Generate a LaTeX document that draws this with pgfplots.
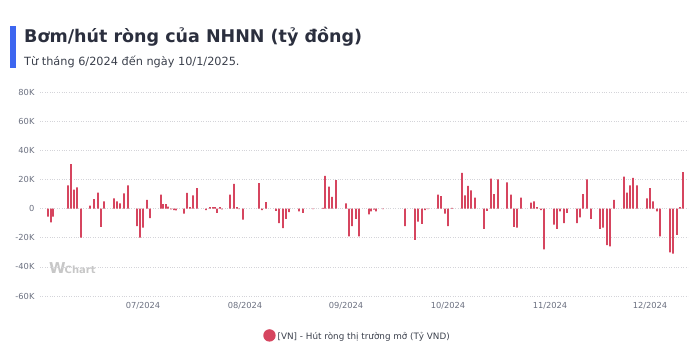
\documentclass[border=0pt]{standalone}
\usepackage{pgfplots}
\pgfplotsset{compat=1.18}
\usepackage{fontspec}
\setmainfont{DejaVu Sans}
\definecolor{barc}{HTML}{D6455F}
\definecolor{titc}{HTML}{2B2F3E}
\definecolor{subc}{HTML}{3A3F4B}
\definecolor{tickc}{HTML}{6B7080}
\definecolor{gridc}{HTML}{D4D4D9}
\definecolor{bluec}{HTML}{3D66F0}
\begin{document}
\begin{tikzpicture}[x=1pt,y=1pt]
\useasboundingbox (0pt,0pt) rectangle (700pt,358pt);
\fill[bluec] (10pt,290pt) rectangle (15.5pt,332pt);
\node[anchor=base west,inner sep=0,text=titc,font=\fontsize{17.5}{20}\selectfont\bfseries] at (24pt,315pt) {Bơm/hút ròng của NHNN (tỷ đồng)};
\node[anchor=base west,inner sep=0,text=subc,font=\fontsize{11.3}{13}\selectfont] at (24pt,292.5pt) {Từ tháng 6/2024 đến ngày 10/1/2025.};
\node[anchor=base west,inner sep=0,text=black!22,font=\fontsize{15}{16}\selectfont\bfseries] at (49pt,84pt) {W\kern-1pt{\fontsize{10}{11}\selectfont Chart}};
\begin{axis}[
  scale only axis, width=648pt, height=204pt,
  anchor=north west, at={(40pt,266pt)},
  xmin=40, xmax=688, ymin=-60, ymax=80,
  axis line style={draw=none},
  tick style={draw=none},
  ytick={-60,-40,-20,0,20,40,60,80},
  yticklabels={-60K,-40K,-20K,0,20K,40K,60K,80K},
  xtick={143,245,346,448,550,650},
  xticklabels={07/2024,08/2024,09/2024,10/2024,11/2024,12/2024},
  ticklabel style={font=\fontsize{8.3}{10}\selectfont, text=tickc},
  yticklabel style={xshift=-2pt},
  xticklabel style={yshift=-3pt},
  ymajorgrids, grid style={gridc, dotted, line width=0.6pt},
  legend style={draw=none, fill=none, at={(0.49,-0.196)}, anchor=center,
     font=\fontsize{8.8}{10}\selectfont, text=subc},
  legend image code/.code={\fill[barc] (0.3em,0.1em) circle (0.62em);},
]
\addplot[ybar, bar width=1.8, fill=barc, draw=none] coordinates {
(48,-5.5) (51,-9.5) (53,-5.5) (68,16) (71,30.5) (74,13) (77,14.5) (81,-20)
(90,2) (94,6.5) (98,11) (101,-12.5) (104,5) (114,7) (117,5) (120,3.5) (124,10.5) (128,16)
(137,-12) (140,-20) (143,-13) (147,6) (150,-6.5)
(161,9.5) (163,3) (166,3) (168,1.4) (171,-0.5) (174,-1) (176,-1.2)
(184,-3.5) (187,10.7) (190,1) (193,9) (197,14)
(206,-1) (210,1) (213,1) (215,1) (217,-3) (220,1) (222,-0.5)
(230,9.5) (234,17) (237,1) (239,-0.3) (243,-7.5)
(259,17.5) (262,-1) (266,4.5) (276,-1.5) (279,-10) (283,-13.5) (286,-7) (289,-2.5)
(299,-2) (303,-3) (313,-0.3) (323,0.5) (325,22.5) (329,15) (332,8) (336,19.5)
(346,3.5) (349,-19) (352,-12) (356,-7) (359,-19)
(369,-4) (371,-2) (374,-0.8) (376,-2) (383,-0.3)
(405,-12) (415,-21.5) (418,-9) (422,-10.5) (425,-1) (428,-0.3)
(438,9.5) (441,8.5) (445,-3.5) (448,-12) (452,0.5)
(462,24.5) (465,9) (468,15.5) (471,12.5) (475,7.5)
(484,-14) (487,-1.5) (491,20.5) (494,10) (498,20)
(507,18) (511,9.5) (514,-12.5) (517,-13) (521,7.5)
(531,4) (534,5) (537,1) (541,-1) (544,-28)
(554,-11) (557,-14) (560,-2) (564,-10) (567,-3)
(577,-10) (580,-6) (583,10) (587,20) (591,-7)
(600,-14) (603,-13) (607,-25) (610,-26) (614,6)
(624,22) (627,11) (630,16) (633,21) (637,16)
(647,7) (650,14) (653,5) (657,-2) (660,-19)
(670,-30) (673,-31) (677,-18) (680,1) (683,25)
};
\addlegendentry{[VN] - Hút ròng thị trường mở (Tỷ VND)}
\end{axis}
\end{tikzpicture}
\end{document}
